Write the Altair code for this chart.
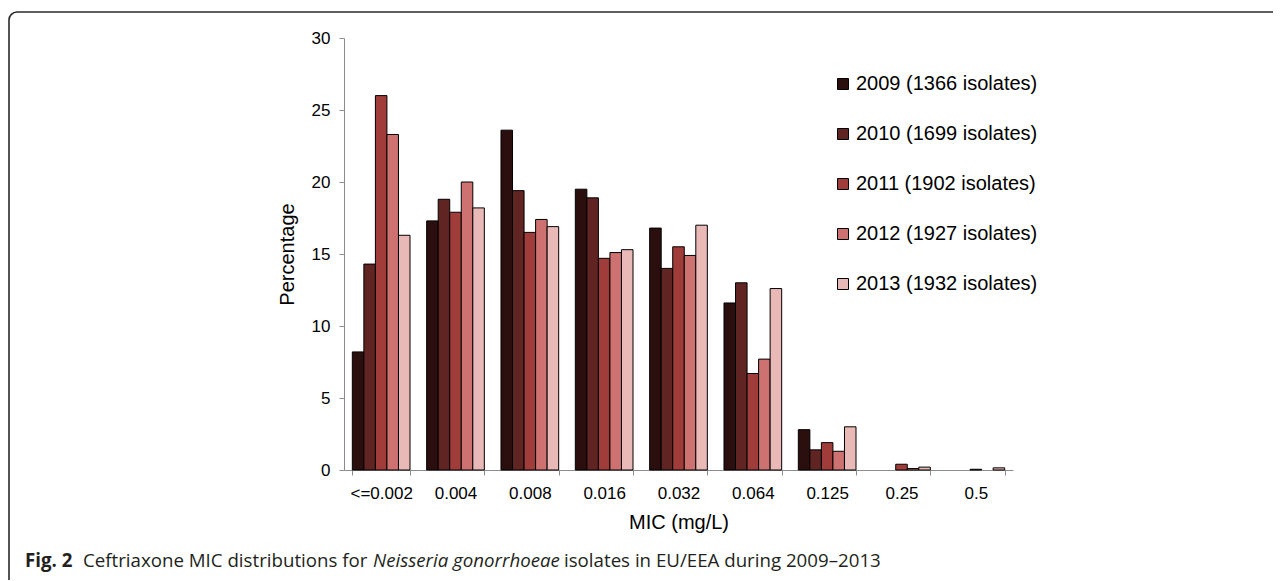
import altair as alt
import pandas as pd

categories = ["<=0.002", "0.004", "0.008", "0.016", "0.032", "0.064", "0.125", "0.25", "0.5"]
series = [
    "2009 (1366 isolates)",
    "2010 (1699 isolates)",
    "2011 (1902 isolates)",
    "2012 (1927 isolates)",
    "2013 (1932 isolates)",
]
v2009 = [8.2, 17.3, 23.6, 19.5, 16.8, 11.6, 2.8, 0.0, 0.0]
v2010 = [14.3, 18.8, 19.4, 18.9, 14.0, 13.0, 1.4, 0.0, 0.0]
v2011 = [26.0, 17.9, 16.5, 14.7, 15.5, 6.7, 1.9, 0.4, 0.05]
v2012 = [23.3, 20.0, 17.4, 15.1, 14.9, 7.7, 1.3, 0.1, 0.0]
v2013 = [16.3, 18.2, 16.9, 15.3, 17.0, 12.6, 3.0, 0.2, 0.15]
colors = ["#2b0f0f", "#602423", "#a03d3b", "#cd7270", "#e9b9b8"]
y_ticks = [0, 5, 10, 15, 20, 25, 30]

caption_parts = [
    "Fig. 2",
    "Ceftriaxone MIC distributions for",
    "Neisseria gonorrhoeae",
    "isolates in EU/EEA during 2009\u20132013",
]

rows = []
for s, vals in zip(series, [v2009, v2010, v2011, v2012, v2013]):
    for c, v in zip(categories, vals):
        rows.append({"mic": c, "series": s, "pct": v})
df = pd.DataFrame(rows)
one = pd.DataFrame({"k": [0]})

FONT = "Liberation Sans"

bars = (
    alt.Chart(df)
    .transform_filter("datum.pct > 0")
    .mark_bar(stroke="black", strokeWidth=1)
    .encode(
        x=alt.X(
            "mic:N",
            scale=alt.Scale(domain=categories, paddingInner=0.224, paddingOuter=0.112),
            axis=alt.Axis(
                title="MIC (mg/L)",
                labelAngle=0,
                tickBand="extent",
                tickSize=5,
                labelPadding=10,
                titleY=52,
                titleBaseline="middle",
            ),
        ),
        xOffset=alt.XOffset(
            "series:N", scale=alt.Scale(domain=series, paddingInner=0, paddingOuter=0)
        ),
        y=alt.Y(
            "pct:Q",
            scale=alt.Scale(domain=[0, 30], nice=False),
            axis=alt.Axis(
                values=y_ticks,
                title="Percentage",
                tickSize=5,
                labelPadding=9,
                titleX=-57,
                titleY=216,
                titleAlign="center",
                titleBaseline="middle",
                titleAngle=270,
            ),
        ),
        fill=alt.Fill(
            "series:N",
            scale=alt.Scale(domain=series, range=colors),
            legend=alt.Legend(
                title=None,
                orient="none",
                legendX=489,
                legendY=36,
                padding=0,
                symbolType="square",
                symbolSize=121,
                symbolStrokeColor="black",
                symbolStrokeWidth=1,
                labelFontSize=20,
                labelFont=FONT,
                labelColor="black",
                labelOffset=3,
                labelLimit=400,
                rowPadding=30,
            ),
        ),
    )
)

border = (
    alt.Chart(one)
    .mark_rect(fillOpacity=0, stroke="#2a2a2a", strokeWidth=1.6, cornerRadius=8)
    .encode(x=alt.value(-335), x2=alt.value(1600), y=alt.value(-26), y2=alt.value(800))
)

cap_font = "Open Sans"
cap_color = "#231f20"
cap_size = 18.7
cap_y = 529
cap1 = alt.Chart(one).mark_text(
    align="left", baseline="alphabetic", font=cap_font, fontSize=cap_size, fontWeight="bold", color=cap_color
).encode(x=alt.value(-319), y=alt.value(cap_y), text=alt.value(caption_parts[0]))
cap2 = alt.Chart(one).mark_text(
    align="left", baseline="alphabetic", font=cap_font, fontSize=cap_size, color=cap_color
).encode(x=alt.value(-261), y=alt.value(cap_y), text=alt.value(caption_parts[1]))
cap3 = alt.Chart(one).mark_text(
    align="left", baseline="alphabetic", font=cap_font, fontSize=cap_size, fontStyle="italic", color=cap_color
).encode(x=alt.value(29), y=alt.value(cap_y), text=alt.value(caption_parts[2]))
cap4 = alt.Chart(one).mark_text(
    align="left", baseline="alphabetic", font=cap_font, fontSize=cap_size, color=cap_color
).encode(x=alt.value(220), y=alt.value(cap_y), text=alt.value(caption_parts[3]))

chart = (
    alt.layer(border, bars, cap1, cap2, cap3, cap4)
    .properties(
        width=669,
        height=432,
        autosize=alt.AutoSizeParams(type="none"),
        padding={"left": 336, "top": 30, "right": 260, "bottom": 110},
    )
    .configure_view(stroke=None)
    .configure_axis(
        grid=False,
        domainColor="#8c8c8c",
        tickColor="#8c8c8c",
        domainWidth=1,
        tickWidth=1,
        labelFont=FONT,
        labelFontSize=17,
        labelColor="black",
        titleFont=FONT,
        titleFontSize=20,
        titleFontWeight="normal",
        titleColor="black",
    )
)

chart.save("out.html", embed_options={"renderer": "svg", "actions": False})
